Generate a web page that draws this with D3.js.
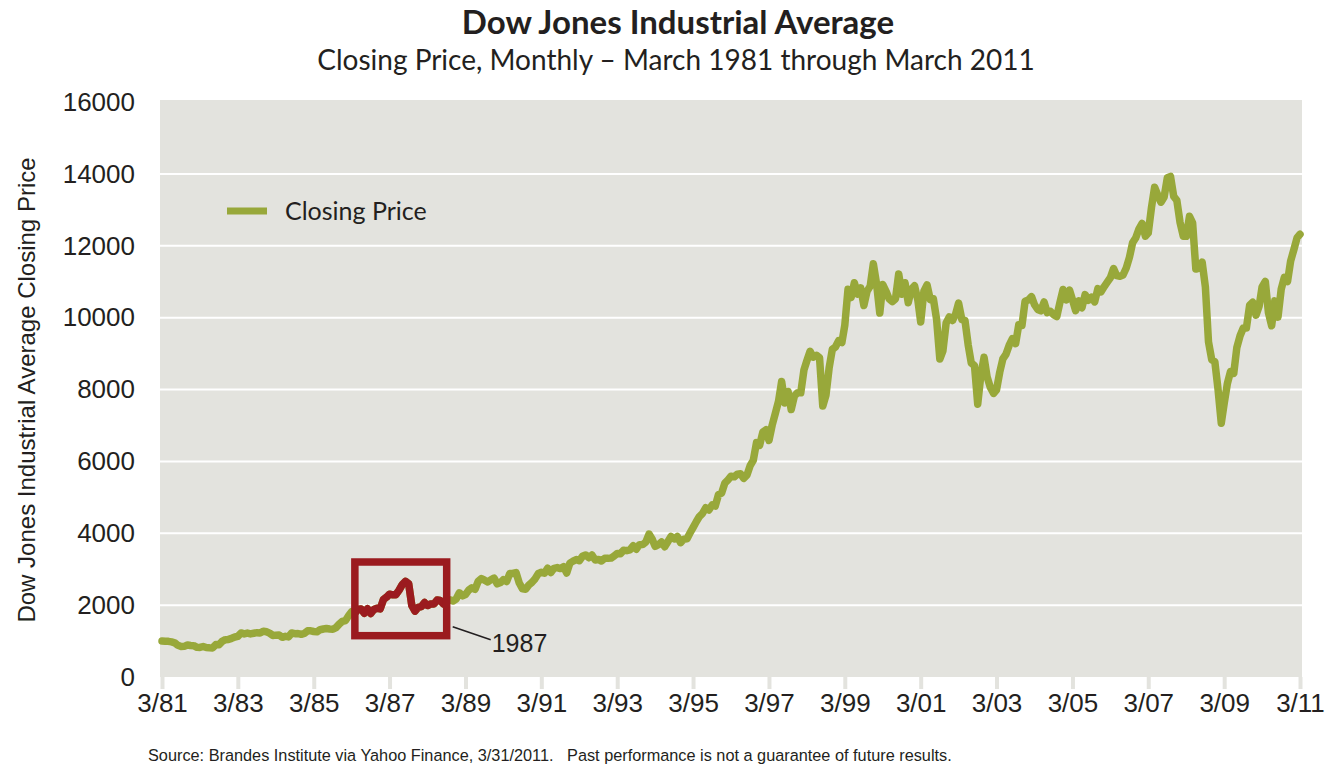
<!DOCTYPE html>
<html>
<head>
<meta charset="utf-8">
<script src="https://cdn.jsdelivr.net/npm/d3@7"></script>
<style>
  body { margin: 0; background: #fff; }
  svg text { fill: #231f20; }
</style>
</head>
<body>
<div id="chart"></div>
<script>
// monthly DJIA closes, first value = March 1981
const startMonth = new Date(1981, 2, 1);
const closes = [
  // 1981 (Mar-Dec)
  1003.87, 997.75, 991.75, 976.88, 952.34, 881.47, 849.98, 852.55, 888.98, 875.00,
  // 1982
  871.10, 824.39, 822.77, 848.36, 819.54, 811.93, 808.60, 901.31, 896.25, 991.72, 1039.28, 1046.54,
  // 1983
  1075.70, 1112.62, 1130.03, 1226.20, 1199.98, 1221.96, 1199.22, 1216.16, 1233.13, 1225.20, 1276.02, 1258.64,
  // 1984
  1220.58, 1154.63, 1164.89, 1170.75, 1104.85, 1132.40, 1115.28, 1224.38, 1206.71, 1207.38, 1188.94, 1211.57,
  // 1985
  1286.77, 1284.01, 1266.78, 1258.06, 1315.41, 1335.46, 1347.45, 1334.01, 1328.63, 1374.31, 1472.13, 1546.67,
  // 1986
  1570.99, 1709.06, 1818.61, 1783.98, 1876.71, 1892.72, 1775.31, 1898.34, 1767.58, 1877.81, 1914.23, 1895.95,
  // 1987
  2158.04, 2223.99, 2304.69, 2286.36, 2291.57, 2418.53, 2572.07, 2662.95, 2596.28, 1993.53, 1833.55, 1938.83,
  // 1988
  1958.22, 2071.62, 1988.06, 2032.33, 2031.12, 2141.71, 2128.73, 2031.65, 2112.91, 2148.65, 2114.51, 2168.57,
  // 1989
  2342.32, 2258.39, 2293.62, 2418.80, 2480.15, 2440.06, 2660.66, 2737.27, 2692.82, 2645.08, 2706.27, 2753.20,
  // 1990
  2590.54, 2627.25, 2707.21, 2656.76, 2876.66, 2880.69, 2905.20, 2614.36, 2452.48, 2442.33, 2559.65, 2633.66,
  // 1991
  2736.39, 2882.18, 2913.86, 2887.87, 3027.50, 2906.75, 3024.82, 3043.60, 3016.77, 3069.10, 2894.68, 3168.83,
  // 1992
  3223.39, 3267.67, 3235.47, 3359.12, 3396.88, 3318.52, 3393.78, 3257.35, 3271.66, 3226.28, 3305.16, 3301.11,
  // 1993
  3310.03, 3370.81, 3435.11, 3427.55, 3527.43, 3516.08, 3539.47, 3651.25, 3555.12, 3680.59, 3683.95, 3754.09,
  // 1994
  3978.36, 3832.02, 3635.96, 3681.69, 3758.37, 3624.96, 3764.50, 3913.42, 3843.19, 3908.12, 3739.23, 3834.44,
  // 1995
  3843.86, 4011.05, 4157.69, 4321.27, 4465.14, 4556.10, 4708.47, 4647.54, 4789.08, 4755.48, 5074.49, 5117.12,
  // 1996
  5395.30, 5485.62, 5587.14, 5569.08, 5643.18, 5654.63, 5528.91, 5616.21, 5882.17, 6029.38, 6521.70, 6448.27,
  // 1997
  6813.09, 6877.74, 6583.48, 7008.99, 7331.04, 7672.79, 8222.61, 7622.42, 7945.26, 7442.08, 7823.13, 7908.25,
  // 1998
  7906.50, 8545.72, 8799.81, 9063.37, 8899.95, 8952.02, 8883.29, 7539.07, 7842.62, 8592.10, 9116.55, 9181.43,
  // 1999
  9358.83, 9306.58, 9786.16, 10789.04, 10559.74, 10970.80, 10655.15, 10829.28, 10336.95, 10729.94, 10877.81, 11497.12,
  // 2000
  10940.53, 10128.31, 10921.92, 10733.91, 10522.33, 10447.89, 10521.98, 11215.10, 10650.92, 10971.14, 10414.49, 10786.85,
  // 2001
  10887.36, 10495.28, 9878.78, 10734.97, 10911.94, 10502.40, 10522.81, 9949.75, 8847.56, 9075.14, 9851.56, 10021.50,
  // 2002
  9920.00, 10106.13, 10403.94, 9946.22, 9925.25, 9243.26, 8736.59, 8663.50, 7591.93, 8397.03, 8896.09, 8341.63,
  // 2003
  8053.81, 7891.08, 7992.13, 8480.09, 8850.26, 8985.44, 9233.80, 9415.82, 9275.06, 9801.12, 9782.46, 10453.92,
  // 2004
  10488.07, 10583.92, 10357.70, 10225.57, 10188.45, 10435.48, 10139.71, 10173.92, 10080.27, 10027.47, 10428.02, 10783.01,
  // 2005
  10489.94, 10766.23, 10503.76, 10192.51, 10467.48, 10274.97, 10640.91, 10481.60, 10568.70, 10440.07, 10805.87, 10717.50,
  // 2006
  10864.86, 10993.41, 11109.32, 11367.14, 11168.31, 11150.22, 11185.68, 11381.15, 11679.07, 12080.73, 12221.93, 12463.15,
  // 2007
  12621.69, 12268.63, 12354.35, 13062.91, 13627.64, 13408.62, 13211.99, 13357.74, 13895.63, 13930.01, 13371.72, 13264.82,
  // 2008
  12650.36, 12266.39, 12262.89, 12820.13, 12638.32, 11350.01, 11378.02, 11543.55, 10850.66, 9325.01, 8829.04, 8776.39,
  // 2009
  8000.86, 7062.93, 7608.92, 8168.12, 8500.33, 8447.00, 9171.61, 9496.28, 9712.28, 9712.73, 10344.84, 10428.05,
  // 2010
  10067.33, 10325.26, 10856.63, 11008.61, 10136.63, 9774.02, 10465.94, 10014.72, 10788.05, 11118.49, 11006.02, 11577.51,
  // 2011 (Jan-Mar)
  11891.93, 12226.34, 12319.73
];

const yTicks = [0, 2000, 4000, 6000, 8000, 10000, 12000, 14000, 16000];
const gridValues = [2000, 4000, 6000, 8000, 10000, 12000, 14000];
const xTickYears = [1981, 1983, 1985, 1987, 1989, 1991, 1993, 1995, 1997, 1999, 2001, 2003, 2005, 2007, 2009, 2011];

// the 1987 call-out box, in data units
const boxStart = new Date(1986, 3, 1);
const boxEnd = new Date(1988, 8, 1);
const boxRange = [1150, 3200];
const boxLabel = "1987";

const dataset = closes.map((v, i) => ({ date: d3.timeMonth.offset(startMonth, i), close: v }));
const xAccessor = d => d.date;
const yAccessor = d => d.close;

const width = 1327, height = 767;
const plot = { left: 160, right: 1302, top: 100, bottom: 677 };
const tickFont = "'Liberation Sans Narrow', 'Liberation Sans', sans-serif";

const svg = d3.select("#chart").append("svg")
  .attr("width", width)
  .attr("height", height);

const xScale = d3.scaleTime()
  .domain([startMonth, new Date(2011, 2, 1)])
  .range([162, 1300]);

const yScale = d3.scaleLinear()
  .domain([0, 16000])
  .range([plot.bottom, 102]);

// background
svg.append("rect")
  .attr("x", plot.left).attr("y", plot.top)
  .attr("width", plot.right - plot.left)
  .attr("height", plot.bottom - plot.top)
  .attr("fill", "#e3e3de");

// grid
svg.append("g")
  .selectAll("line")
  .data(gridValues)
  .join("line")
  .attr("x1", plot.left).attr("x2", plot.right)
  .attr("y1", d => yScale(d)).attr("y2", d => yScale(d))
  .attr("stroke", "#fff")
  .attr("stroke-width", 2);

// x axis
const gX = svg.append("g")
  .attr("transform", `translate(0,${plot.bottom})`)
  .call(d3.axisBottom(xScale)
    .tickValues(xTickYears.map(y => new Date(y, 2, 1)))
    .tickFormat(d3.timeFormat("%-m/%y"))
    .tickSize(12)
    .tickPadding(5));
gX.select(".domain").remove();
gX.selectAll(".tick line").attr("stroke", "#e3e3de").attr("stroke-width", 4);
gX.selectAll(".tick text")
  .style("font-family", tickFont)
  .style("font-size", "26px")
  .attr("fill", "#231f20");

// y axis
const gY = svg.append("g")
  .attr("transform", `translate(${plot.left},0)`)
  .call(d3.axisLeft(yScale)
    .tickValues(yTicks)
    .tickFormat(d3.format("d"))
    .tickSize(0)
    .tickPadding(25));
gY.select(".domain").remove();
gY.selectAll(".tick text")
  .style("font-family", tickFont)
  .style("font-size", "26px")
  .attr("fill", "#231f20");

// y label
svg.append("text")
  .attr("transform", "translate(35,390) rotate(-90)")
  .attr("text-anchor", "middle")
  .style("font-family", tickFont)
  .style("font-size", "24px")
  .text("Dow Jones Industrial Average Closing Price");

// line
const lineGenerator = d3.line()
  .x(d => xScale(xAccessor(d)))
  .y(d => yScale(yAccessor(d)));

svg.append("path")
  .datum(dataset)
  .attr("d", lineGenerator)
  .attr("fill", "none")
  .attr("stroke", "#98a83a")
  .attr("stroke-width", 7.5)
  .attr("stroke-linejoin", "round")
  .attr("stroke-linecap", "round");

// highlight in box
const bx0 = xScale(boxStart), bx1 = xScale(boxEnd);
const by0 = yScale(boxRange[1]), by1 = yScale(boxRange[0]);

svg.append("defs").append("clipPath")
  .attr("id", "boxClip")
  .append("rect")
  .attr("x", bx0).attr("y", by0)
  .attr("width", bx1 - bx0).attr("height", by1 - by0);

svg.append("path")
  .datum(dataset)
  .attr("d", lineGenerator)
  .attr("clip-path", "url(#boxClip)")
  .attr("fill", "none")
  .attr("stroke", "#9b1b1f")
  .attr("stroke-width", 7.5)
  .attr("stroke-linejoin", "round")
  .attr("stroke-linecap", "round");

svg.append("rect")
  .attr("x", bx0).attr("y", by0)
  .attr("width", bx1 - bx0).attr("height", by1 - by0)
  .attr("fill", "none")
  .attr("stroke", "#9b1b1f")
  .attr("stroke-width", 7.5);

svg.append("line")
  .attr("x1", bx1 + 6).attr("y1", by1 - 9)
  .attr("x2", bx1 + 44).attr("y2", by1 + 4)
  .attr("stroke", "#231f20")
  .attr("stroke-width", 1.5);

svg.append("text")
  .attr("x", bx1 + 45).attr("y", by1 + 16)
  .style("font-family", tickFont)
  .style("font-size", "25px")
  .text(boxLabel);

// legend
svg.append("line")
  .attr("x1", 227).attr("x2", 267)
  .attr("y1", 211).attr("y2", 211)
  .attr("stroke", "#98a83a")
  .attr("stroke-width", 7);
svg.append("text")
  .attr("x", 285).attr("y", 220)
  .style("font-family", "Lato, sans-serif")
  .style("font-size", "25px")
  .text("Closing Price");

// titles
svg.append("text")
  .attr("x", 678).attr("y", 34)
  .attr("text-anchor", "middle")
  .style("font-family", "Lato, sans-serif")
  .style("font-weight", "bold")
  .style("font-size", "33px")
  .text("Dow Jones Industrial Average");

svg.append("text")
  .attr("x", 676).attr("y", 70)
  .attr("text-anchor", "middle")
  .style("font-family", "Lato, sans-serif")
  .style("font-size", "28px")
  .text("Closing Price, Monthly \u2013 March 1981 through March 2011");

svg.append("text")
  .attr("x", 148).attr("y", 761)
  .style("font-family", tickFont)
  .style("font-size", "16.3px")
  .attr("xml:space", "preserve")
  .text("Source: Brandes Institute via Yahoo Finance, 3/31/2011.   Past performance is not a guarantee of future results.");
</script>
</body>
</html>
